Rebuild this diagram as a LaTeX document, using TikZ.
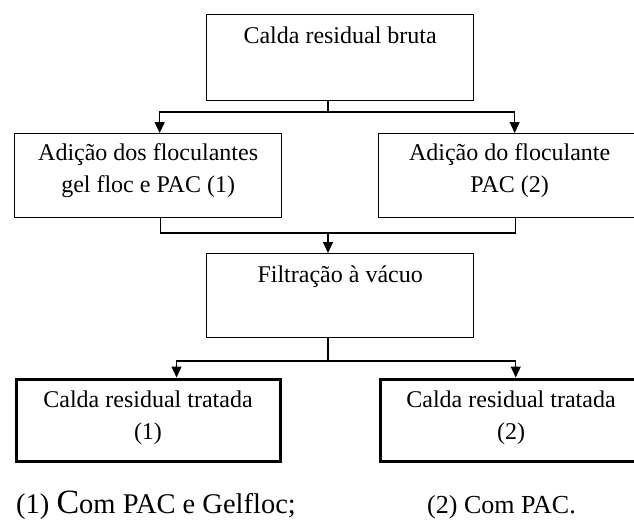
\documentclass[tikz,border=0pt]{standalone}
\usepackage{fontspec}
\setmainfont{Liberation Serif}
\usetikzlibrary{arrows.meta}

\tikzset{
	box/.style={draw, line width=1.3pt, inner sep=0pt, align=center, anchor=north west, font=\fontsize{24}{32}\selectfont},
	endbox/.style={box, line width=3pt},
	link/.style={line width=1.3pt},
	arr/.style={-{Triangle[width=10pt,length=11pt]}},
	note/.style={anchor=base west, inner sep=0pt, font=\fontsize{26}{30}\selectfont}
}

\begin{document}
\begin{tikzpicture}[x=1pt, y=-1pt]
\path[use as bounding box, clip] (0,0) rectangle (634,519);
% caixas
\node[box, minimum width=267pt, text height=29pt, text depth=57pt] (bruta) at (206,14) {Calda residual bruta};
\node[box, minimum width=267pt, text height=59pt, text depth=25pt] (floc1) at (14,133) {Adição dos floculantes\\gel floc e PAC (1)};
\node[box, minimum width=262pt, text height=59pt, text depth=25pt] (floc2) at (378,133) {Adição do floculante\\PAC (2)};
\node[box, minimum width=267pt, text height=29pt, text depth=55pt] (filtro) at (206,253) {Filtração à vácuo};
\node[endbox, minimum width=264pt, text height=60.5pt, text depth=21.5pt] (trat1) at (14.5,377.5) {Calda residual tratada\\(1)};
\node[endbox, minimum width=262pt, text height=60.5pt, text depth=21.5pt] (trat2) at (378.5,377.5) {Calda residual tratada\\(2)};
% notas
\node[note, font=\fontsize{28.5}{30}\selectfont] (nota1) at (16,513) {(1) {\fontsize{34}{34}\selectfont C}om PAC e Gelfloc;};
\node[note] (nota2) at (427,513) {(2) Com PAC.};
% ligacoes
\coordinate (s1) at (328,112);
\coordinate (s2) at (328,233);
\coordinate (s3) at (328,361);
\draw[link] (s1 |- bruta.south) -- (s1);
\draw[link, arr] (s1) -| ([xshift=11.5pt]floc1.north);
\draw[link, arr] (s1) -| ([xshift=5pt]floc2.north);
\draw[link] ([xshift=12.5pt]floc1.south) |- (s2) -| ([xshift=6pt]floc2.south);
\draw[link, arr] (s2) -- (s2 |- filtro.north);
\draw[link] (s3 |- filtro.south) -- (s3);
\draw[link, arr] (s3) -| ([xshift=28.5pt]trat1.north);
\draw[link, arr] (s3) -| ([xshift=4.75pt]trat2.north);
%\draw[link] (trat1) -- (trat2);
\end{tikzpicture}
\end{document}
